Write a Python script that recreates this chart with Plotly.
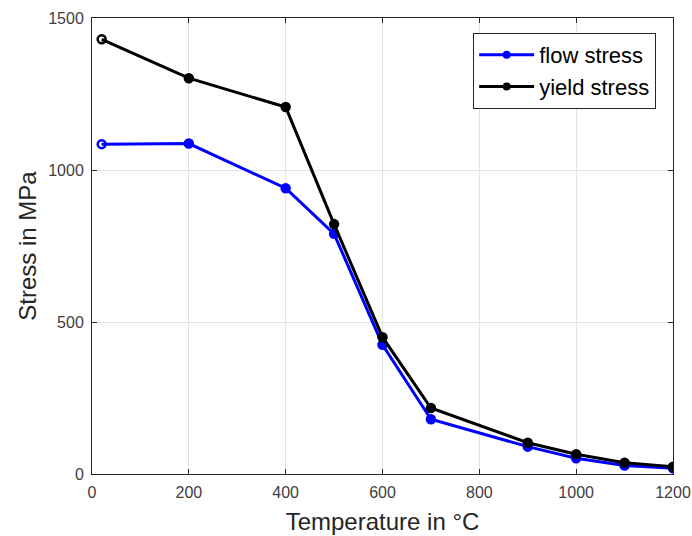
import plotly.graph_objects as go

temperature = [20, 200, 400, 500, 600, 700, 900, 1000, 1100, 1200]
flow_stress = [1085, 1087, 940, 790, 425, 180, 90, 52, 28, 19]
yield_stress = [1430, 1302, 1207, 822, 450, 217, 103, 65, 37, 24]

x_ticks = [0, 200, 400, 600, 800, 1000, 1200]
y_ticks = [0, 500, 1000, 1500]

font = "Liberation Sans, Arial, sans-serif"
axis_col = "#262626"

fig = go.Figure()
sym = ["circle-open"] + ["circle"] * (len(temperature) - 1)
for name, vals, col in [("flow stress", flow_stress, "#0000ff"),
                        ("yield stress", yield_stress, "#000000")]:
    fig.add_trace(go.Scatter(x=temperature, y=vals, mode="lines+markers",
                             name=name, showlegend=False,
                             line=dict(color=col, width=3),
                             marker=dict(color=col, size=8, symbol=sym,
                                         line=dict(width=2.5, color=col))))
for name, col in [("flow stress", "#0000ff"), ("yield stress", "#000000")]:
    fig.add_trace(go.Scatter(x=[None], y=[None], mode="lines+markers",
                             name=name, line=dict(color=col, width=3),
                             marker=dict(color=col, size=8, symbol="circle")))

axcommon = dict(showline=True, linecolor=axis_col, linewidth=1, mirror="ticks",
                ticks="inside", ticklen=5, tickcolor=axis_col,
                showgrid=True, gridcolor="#e3e3e3", gridwidth=1,
                zeroline=False, automargin=False,
                tickfont=dict(family=font, size=16, color="#404040"))

fig.update_layout(
    width=692, height=536,
    margin=dict(l=92, r=19, t=18, b=62),
    paper_bgcolor="white", plot_bgcolor="white",
    font=dict(family=font, color=axis_col),
    showlegend=True,
    legend=dict(x=0.971, y=0.967, xanchor="right", yanchor="top",
                bgcolor="white", bordercolor=axis_col, borderwidth=1,
                font=dict(family=font, size=22, color="#000000"),
                tracegroupgap=0, itemwidth=55),
    xaxis=dict(range=[0, 1200], tickvals=x_ticks, ticklabelstandoff=4,
               title=dict(text="Temperature in °C", font=dict(family=font, size=24, color=axis_col), standoff=12),
               **axcommon),
    yaxis=dict(range=[0, 1500], tickvals=y_ticks, ticklabelstandoff=4,
               title=dict(text="Stress in MPa", font=dict(family=font, size=24, color=axis_col), standoff=4),
               **axcommon),
)

fig.write_html("out.html")
